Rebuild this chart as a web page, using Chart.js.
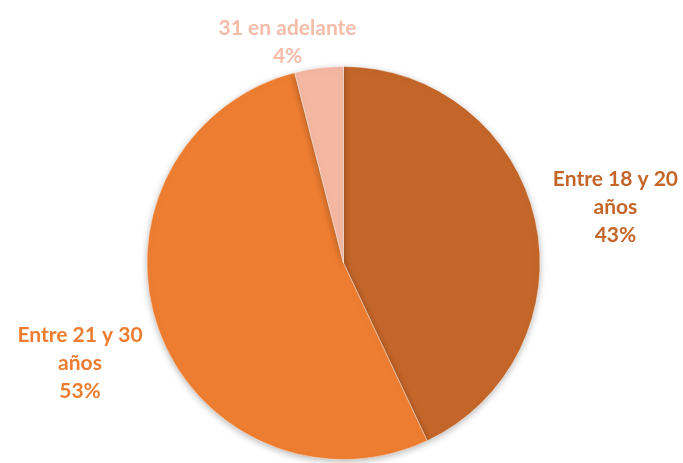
<!DOCTYPE html>
<html><head><meta charset="utf-8">
<script src="https://cdn.jsdelivr.net/npm/chart.js@4/dist/chart.umd.min.js"></script>
<style>html,body{margin:0;padding:0;background:#fff;}#wrap{width:683px;height:463px;}</style>
</head><body><div id="wrap"><canvas id="c"></canvas></div>
<script>
const categories = ["Entre 18 y 20 años", "Entre 21 y 30 años", "31 en adelante"];
const labelLines = [["Entre 18 y 20", "años"], ["Entre 21 y 30", "años"], ["31 en adelante"]];
const values = [43, 53, 4];
const percentLabels = ["43%", "53%", "4%"];
const sliceColors = ["#C4662A", "#ED7D31", "#F4B7A2"];
const textColors = ["#C4662A", "#ED7D31", "#F5BCA8"];

const shadowPlugin = {
  id: 'shadow',
  beforeDatasetsDraw(chart) {
    const ctx = chart.ctx; ctx.save();
    ctx.shadowColor = 'rgba(0,0,0,0.28)'; ctx.shadowBlur = 7; ctx.shadowOffsetY = 2;
  },
  afterDatasetsDraw(chart) { chart.ctx.restore(); }
};

const outLabels = {
  id: 'outLabels',
  afterDraw(chart, args, opts) {
    const ctx = chart.ctx;
    const meta = chart.getDatasetMeta(0);
    ctx.save();
    ctx.font = opts.font;
    ctx.textAlign = 'center'; ctx.textBaseline = 'middle';
    meta.data.forEach((arc, i) => {
      const lines = labelLines[i].concat([percentLabels[i]]);
      const w = Math.max(...lines.map(l => ctx.measureText(l).width));
      const h = lines.length * opts.lineHeight;
      const mid = (arc.startAngle + arc.endAngle) / 2;
      const dx = Math.cos(mid), dy = Math.sin(mid);
      const tx = Math.abs(dx) > 1e-6 ? (w / 2) / Math.abs(dx) : Infinity;
      const ty = Math.abs(dy) > 1e-6 ? (h / 2) / Math.abs(dy) : Infinity;
      const d = arc.outerRadius + opts.pads[i] + Math.min(tx, ty);
      const cx = arc.x + dx * d + opts.dx[i], cy = arc.y + dy * d + opts.dy[i];
      ctx.fillStyle = textColors[i];
      lines.forEach((l, k) => {
        ctx.fillText(l, cx, cy - h / 2 + opts.lineHeight * (k + 0.5));
      });
    });
    ctx.restore();
  }
};

new Chart(document.getElementById('c'), {
  type: 'pie',
  data: { labels: categories, datasets: [{ data: values, backgroundColor: sliceColors, borderColor: 'rgba(255,255,255,0.4)', borderWidth: 1 }] },
  options: {
    responsive: true, maintainAspectRatio: false, animation: false,
    layout: { padding: { top: 66, bottom: 3, left: 4, right: 0 } },
    plugins: {
      legend: { display: false }, tooltip: { enabled: false },
      outLabels: { font: 'bold 21px Lato', lineHeight: 28, pads: [18, 17, -2], dx: [0, 0, -28], dy: [5, 5, 0] }
    }
  },
  plugins: [shadowPlugin, outLabels]
});
</script></body></html>
